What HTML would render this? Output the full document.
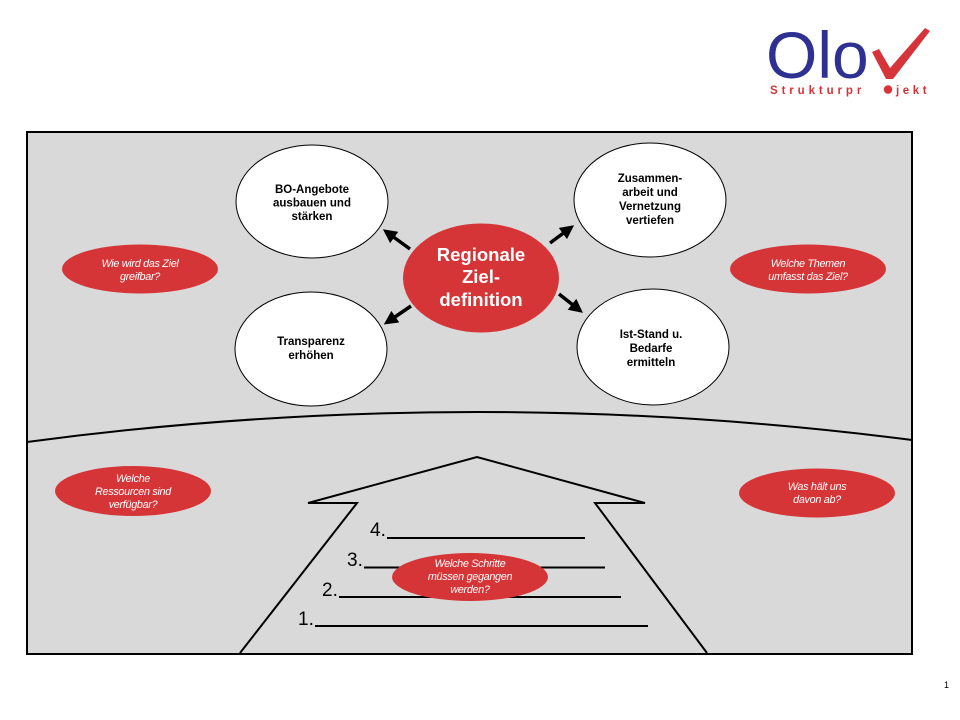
<!DOCTYPE html>
<html>
<head>
<meta charset="utf-8">
<style>
html,body{margin:0;padding:0;background:#fff;}
svg{display:block;}
.wb{font-family:"Liberation Sans",Arial,sans-serif;font-weight:bold;font-size:11.5px;fill:#000;text-anchor:middle;}
.ri{font-family:"Liberation Sans",Arial,sans-serif;font-style:italic;font-size:10.8px;fill:#fff;text-anchor:middle;letter-spacing:-0.3px;}
.num{font-family:"Liberation Sans",Arial,sans-serif;font-size:19px;fill:#000;}
</style>
</head>
<body>
<svg width="960" height="720" viewBox="0 0 960 720" xmlns="http://www.w3.org/2000/svg">
  <!-- logo -->
  <text x="766" y="78" font-family="Liberation Sans, Arial, sans-serif" font-size="66" fill="#2e3192">Olo</text>
  <path d="M872,52 L879,49 L890,68 L925,28 L930,31 L893,79 L886,79 Z" fill="#d6343a"/>
  <text x="770" y="94" font-family="Liberation Sans, Arial, sans-serif" font-weight="bold" font-size="11.5" fill="#d6343a" letter-spacing="3.9">Strukturpr</text>
  <circle cx="888" cy="89.5" r="4.3" fill="#d6343a"/>
  <text x="896" y="94" font-family="Liberation Sans, Arial, sans-serif" font-weight="bold" font-size="11.5" fill="#d6343a" letter-spacing="3.6">jekt</text>

  <!-- frame -->
  <rect x="27" y="132" width="885" height="522" fill="#d9d9d9" stroke="#000" stroke-width="2"/>
  <!-- curve -->
  <path d="M27,442 Q470,383 912,440" fill="none" stroke="#000" stroke-width="2"/>

  <!-- arrow shape bottom -->
  <path d="M240,653 L357,503 L308,503 L477,457 L645,503 L595,503 L707,653" fill="none" stroke="#000" stroke-width="2"/>

  <!-- numbered lines -->
  <text class="num" x="370" y="536">4.</text>
  <line x1="387" y1="538" x2="585" y2="538" stroke="#000" stroke-width="2"/>
  <text class="num" x="347" y="566">3.</text>
  <line x1="364" y1="567.5" x2="605" y2="567.5" stroke="#000" stroke-width="2"/>
  <text class="num" x="322" y="596">2.</text>
  <line x1="339" y1="597" x2="621" y2="597" stroke="#000" stroke-width="2"/>
  <text class="num" x="298" y="625">1.</text>
  <line x1="315" y1="626" x2="648" y2="626" stroke="#000" stroke-width="2"/>

  <!-- red question ellipses -->
  <ellipse cx="140" cy="269" rx="78" ry="24.5" fill="#d63538"/>
  <text class="ri" x="140" y="267">Wie wird das Ziel</text>
  <text class="ri" x="140" y="280">greifbar?</text>

  <ellipse cx="808" cy="269" rx="78" ry="24.5" fill="#d63538"/>
  <text class="ri" x="808" y="267">Welche Themen</text>
  <text class="ri" x="808" y="280">umfasst das Ziel?</text>

  <ellipse cx="133" cy="491" rx="78" ry="25" fill="#d63538"/>
  <text class="ri" x="133" y="482">Welche</text>
  <text class="ri" x="133" y="495">Ressourcen sind</text>
  <text class="ri" x="133" y="508">verfügbar?</text>

  <ellipse cx="817" cy="493" rx="78" ry="24.5" fill="#d63538"/>
  <text class="ri" x="817" y="490">Was hält uns</text>
  <text class="ri" x="817" y="503">davon ab?</text>

  <ellipse cx="470" cy="577" rx="78" ry="24" fill="#d63538"/>
  <text class="ri" x="470" y="567">Welche Schritte</text>
  <text class="ri" x="470" y="580">müssen gegangen</text>
  <text class="ri" x="470" y="593">werden?</text>

  <!-- white ellipses -->
  <ellipse cx="312" cy="201.5" rx="76" ry="56.5" fill="#fff" stroke="#000" stroke-width="1"/>
  <text class="wb" x="312" y="193">BO-Angebote</text>
  <text class="wb" x="312" y="206.5">ausbauen und</text>
  <text class="wb" x="312" y="220">stärken</text>

  <ellipse cx="311" cy="349" rx="76" ry="57" fill="#fff" stroke="#000" stroke-width="1"/>
  <text class="wb" x="311" y="345">Transparenz</text>
  <text class="wb" x="311" y="359">erhöhen</text>

  <ellipse cx="650" cy="200" rx="76" ry="57" fill="#fff" stroke="#000" stroke-width="1"/>
  <text class="wb" x="650" y="182">Zusammen-</text>
  <text class="wb" x="650" y="196">arbeit und</text>
  <text class="wb" x="650" y="210">Vernetzung</text>
  <text class="wb" x="650" y="224">vertiefen</text>

  <ellipse cx="653" cy="347" rx="76" ry="58" fill="#fff" stroke="#000" stroke-width="1"/>
  <text class="wb" x="651" y="338">Ist-Stand u.</text>
  <text class="wb" x="651" y="352">Bedarfe</text>
  <text class="wb" x="651" y="366">ermitteln</text>

  <!-- central red -->
  <ellipse cx="481" cy="278" rx="78" ry="54.5" fill="#d63538"/>
  <g font-family="Liberation Sans, Arial, sans-serif" font-weight="bold" font-size="18.5" fill="#fff" text-anchor="middle">
    <text x="481" y="261">Regionale</text>
    <text x="481" y="283">Ziel-</text>
    <text x="481" y="306">definition</text>
  </g>

  <!-- arrows -->
  <defs>
    <marker id="ah" markerWidth="4" markerHeight="4" refX="2.2" refY="2" orient="auto" markerUnits="strokeWidth">
      <path d="M0,0 L4,2 L0,4 Z" fill="#000"/>
    </marker>
  </defs>
  <line x1="410" y1="249" x2="388" y2="233" stroke="#000" stroke-width="3.5" marker-end="url(#ah)"/>
  <line x1="411" y1="306" x2="389" y2="321" stroke="#000" stroke-width="3.5" marker-end="url(#ah)"/>
  <line x1="550" y1="243" x2="569" y2="229" stroke="#000" stroke-width="3.5" marker-end="url(#ah)"/>
  <line x1="559" y1="294" x2="578" y2="309" stroke="#000" stroke-width="3.5" marker-end="url(#ah)"/>

  <!-- page number -->
  <text x="944" y="688" font-family="Liberation Sans, Arial, sans-serif" font-size="9" fill="#000">1</text>
</svg>
</body>
</html>
